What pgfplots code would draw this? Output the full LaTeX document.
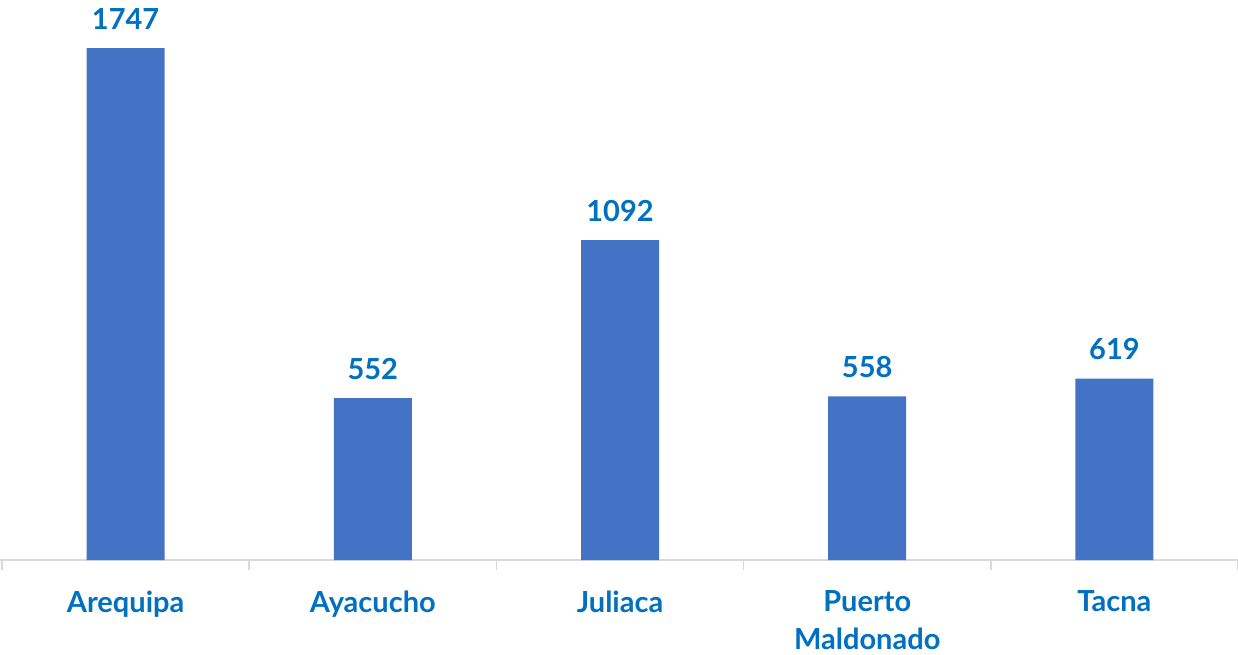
\documentclass[border=0pt]{standalone}
\usepackage{pgfplots}
\pgfplotsset{compat=1.18}
\usepackage{fontspec}
\setmainfont{Lato}
\definecolor{barblue}{HTML}{4472C4}
\definecolor{txtblue}{HTML}{0070C0}
\definecolor{axgray}{HTML}{D9D9D9}
\begin{document}
\begin{tikzpicture}
\path[use as bounding box] (0pt,-94pt) rectangle (1238pt,560pt);
\begin{axis}[
  at={(0pt,0pt)}, anchor=south west,
  scale only axis,
  width=1238pt, height=560pt,
  xmin=-0.508, xmax=4.5,
  ymin=0, ymax=1911,
  axis x line=bottom, axis y line=none,
  axis line style={-, draw=axgray, line width=1.5pt},
  xtick={-0.5,0.5,1.5,2.5,3.5,4.5},
  xticklabels={},
  major tick length=10pt,
  tick align=outside,
  x tick style={draw=axgray, line width=1.5pt},
  extra x ticks={0,1,2,3,4},
  extra x tick labels={Arequipa,Ayacucho,Juliaca,{Puerto\\Maldonado},Tacna},
  extra x tick style={major tick length=0pt, tick style={draw=none}},
  xticklabel style={font=\fontsize{29}{38}\selectfont\bfseries, text=txtblue, align=center, anchor=north, yshift=-27pt},
  ytick=\empty,
  /pgf/number format/assume math mode=true,
  /pgf/number format/1000 sep={},
  ybar, bar width=78pt,
  nodes near coords,
  every node near coord/.append style={font=\fontsize{29}{34}\selectfont\bfseries, text=txtblue, yshift=15pt},
  clip=false,
]
\addplot[fill=barblue, draw=none] coordinates {(0,1747) (1,552) (2,1092) (3,558) (4,619)};
\end{axis}
\end{tikzpicture}
\end{document}
